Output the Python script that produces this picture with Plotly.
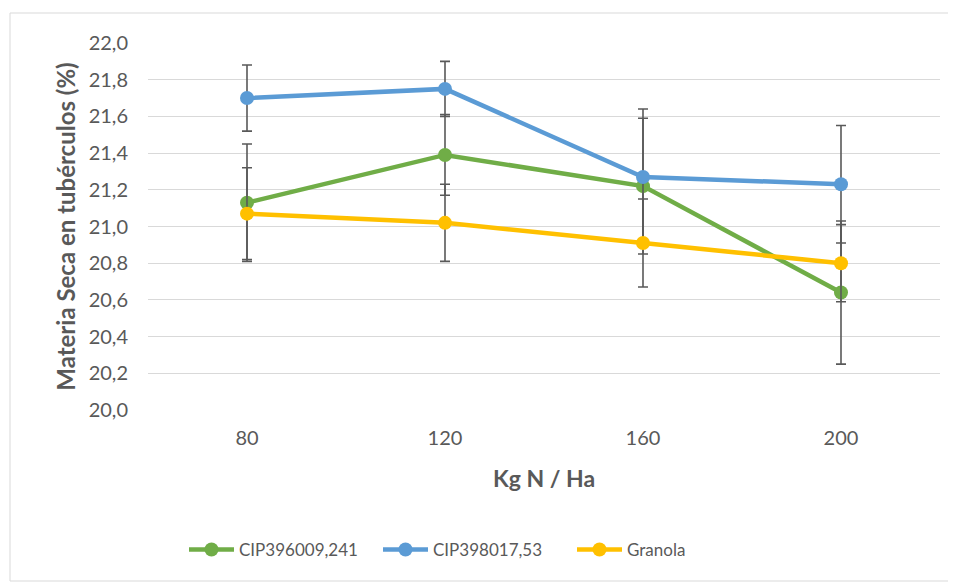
import plotly.graph_objects as go

categories = ["80", "120", "160", "200"]
series_names = ["CIP396009,241", "CIP398017,53", "Granola"]
green_vals = [21.13, 21.39, 21.22, 20.64]
blue_vals = [21.70, 21.75, 21.27, 21.23]
yellow_vals = [21.07, 21.02, 20.91, 20.80]
green_err = [0.32, 0.22, 0.37, 0.39]
blue_err = [0.18, 0.15, 0.37, 0.32]
yellow_err = [0.25, 0.21, 0.24, 0.21]
colors = ["#70AD47", "#5B9BD5", "#FFC000"]

font_family = "Lato, 'Open Sans', sans-serif"
fig = go.Figure()
for name, vals, errs, col in zip(series_names, [green_vals, blue_vals, yellow_vals],
                                  [green_err, blue_err, yellow_err], colors):
    fig.add_trace(go.Scatter(
        x=categories, y=vals, name=name, mode="lines+markers",
        line=dict(color=col, width=4.5),
        marker=dict(color=col, size=14),
        error_y=dict(type="data", array=errs, visible=True, color="#595959",
                     thickness=1.6, width=5),
    ))

# page offset of 8px (body margin) compensated
OFF = 8
L, R, T, B = 148 - OFF, 940 - OFF, 43 - OFF, 410 - OFF
W, H = 956, 582
def px(x): return (x - OFF - L) / (R - L)
def py(y): return (B - (y - OFF)) / (B - T)
fig.add_shape(type="rect", xref="paper", yref="paper",
              x0=px(10), x1=px(950), y0=py(581), y1=py(13),
              line=dict(color="#D9D9D9", width=1), layer="below")

fig.update_layout(
    width=W, height=H,
    margin=dict(l=L, r=W - R, t=T, b=H - B),
    paper_bgcolor="white", plot_bgcolor="white",
    separators=",.",
    font=dict(family=font_family, size=16, color="#595959"),
    showlegend=True,
    legend=dict(orientation="h", x=px(184), xanchor="left", y=py(550), yanchor="middle",
                font=dict(size=17, color="#595959"), traceorder="normal",
                itemwidth=45, entrywidth=134, entrywidthmode="pixels"),
    xaxis=dict(type="category", range=[-0.5, 3.5], showgrid=False,
               showline=False, ticks="", ticklabelstandoff=14,
               tickfont=dict(size=20, color="#595959"),
               title=dict(text="<b>Kg N / Ha</b>", font=dict(size=23, color="#595959"), standoff=22)),
    yaxis=dict(range=[20, 22], dtick=0.2, tickformat=".1f", showgrid=True,
               gridcolor="#D9D9D9", gridwidth=1, zeroline=False, showline=False,
               ticks="", ticklabelstandoff=19,
               tickfont=dict(size=20, color="#595959"),
               title=dict(text="<b>Materia Seca en tubérculos (%)</b>",
                          font=dict(size=24, color="#595959"), standoff=6)),
)
fig.write_html("out.html")
